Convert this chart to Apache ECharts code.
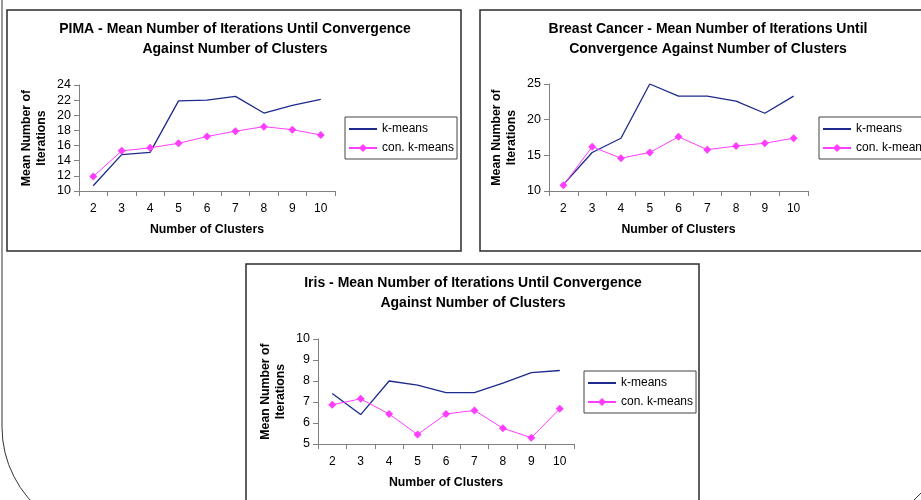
<!DOCTYPE html>
<html>
<head>
<meta charset="utf-8">
<title>Mean Number of Iterations Until Convergence</title>
<script src="https://cdn.jsdelivr.net/npm/echarts@6/dist/echarts.min.js"></script>
<style>
  html, body { margin: 0; padding: 0; background: #ffffff; }
  #chart { width: 921px; height: 500px; }
</style>
</head>
<body>
<div id="chart"></div>
<script>
// Number of clusters on every x axis
const clusters = ['2', '3', '4', '5', '6', '7', '8', '9', '10'];

// PIMA
const pimaKMeans    = [10.7, 14.8, 15.1, 21.9, 22.0, 22.5, 20.3, 21.3, 22.1];
const pimaConKMeans = [11.9, 15.3, 15.7, 16.3, 17.2, 17.9, 18.5, 18.1, 17.4];

// Breast Cancer
const breastKMeans    = [10.9, 15.4, 17.4, 25.0, 23.3, 23.3, 22.6, 20.9, 23.3];
const breastConKMeans = [10.8, 16.2, 14.6, 15.4, 17.6, 15.8, 16.3, 16.7, 17.4];

// Iris
const irisKMeans    = [7.4, 6.4, 8.0, 7.8, 7.45, 7.45, 7.9, 8.4, 8.5];
const irisConKMeans = [6.87, 7.15, 6.43, 5.45, 6.43, 6.6, 5.75, 5.3, 6.68];

// y-axis ranges: [min, max, interval]
const pimaRange   = [10, 24, 2];
const breastRange = [10, 25, 5];
const irisRange   = [5, 10, 1];

const titles = [
  'PIMA - Mean Number of Iterations Until Convergence\nAgainst Number of Clusters',
  'Breast Cancer - Mean Number of Iterations Until\nConvergence Against Number of Clusters',
  'Iris - Mean Number of Iterations Until Convergence\nAgainst Number of Clusters'
];
const seriesNames = ['k-means', 'con. k-means'];
const yName = 'Mean Number of\nIterations';
const xName = 'Number of Clusters';

const FONT = 'Liberation Sans, Arial, sans-serif';
const NAVY = '#1c2a8c';
const MAGENTA = '#ff3dff';
const AXIS_GRAY = '#808080';
const CLEAR = 'rgba(0,0,0,0)';

const panels = [
  { title: titles[0], tx: 235, ty: 19, grid: { left: 79, top: 85, width: 256, height: 106 },
    legend: { left: 345, top: 117 }, range: pimaRange, k: pimaKMeans, c: pimaConKMeans },
  { title: titles[1], tx: 708, ty: 19, grid: { left: 549, top: 84, width: 259, height: 107 },
    legend: { left: 819, top: 117 }, range: breastRange, k: breastKMeans, c: breastConKMeans },
  { title: titles[2], tx: 473, ty: 273, grid: { left: 318, top: 339, width: 256, height: 105 },
    legend: { left: 584, top: 371 }, range: irisRange, k: irisKMeans, c: irisConKMeans }
];

const option = {
  backgroundColor: '#ffffff',
  animation: false,
  title: panels.map(p => ({
    text: p.title,
    left: p.tx,
    top: p.ty,
    padding: 0,
    textAlign: 'center',
    textStyle: { fontFamily: FONT, fontSize: 14, fontWeight: 'bold', color: '#000', lineHeight: 20 }
  })),
  legend: panels.map(p => ({
    orient: 'vertical',
    left: p.legend.left,
    top: p.legend.top,
    padding: [5, 3, 4, 3],
    itemGap: 5,
    itemWidth: 28,
    itemHeight: 10,
    borderColor: '#444',
    borderWidth: 1,
    selectedMode: false,
    data: [
      // plain line sample, no marker
      { name: seriesNames[0], itemStyle: { color: CLEAR, borderColor: CLEAR, borderWidth: 0 } },
      { name: seriesNames[1] }
    ],
    textStyle: { fontFamily: FONT, fontSize: 12, color: '#000', lineHeight: 14 }
  })),
  grid: panels.map(p => Object.assign({ containLabel: false }, p.grid)),
  xAxis: panels.map((p, i) => ({
    type: 'category',
    gridIndex: i,
    data: clusters,
    boundaryGap: true,
    name: xName,
    nameLocation: 'middle',
    nameGap: 33,
    nameTextStyle: { fontFamily: FONT, fontSize: 12.3, fontWeight: 'bold', color: '#000' },
    axisLine: { lineStyle: { color: AXIS_GRAY, width: 1 } },
    axisTick: { show: true, length: 5, alignWithLabel: false, lineStyle: { color: AXIS_GRAY } },
    axisLabel: { fontFamily: FONT, fontSize: 12, color: '#000', margin: 12 },
    splitLine: { show: false }
  })),
  yAxis: panels.map((p, i) => ({
    type: 'value',
    gridIndex: i,
    min: p.range[0],
    max: p.range[1],
    interval: p.range[2],
    name: yName,
    nameLocation: 'middle',
    nameGap: 30,
    nameTextStyle: { fontFamily: FONT, fontSize: 12.3, fontWeight: 'bold', color: '#000', lineHeight: 15 },
    axisLine: { show: true, lineStyle: { color: AXIS_GRAY, width: 1 } },
    axisTick: { show: true, length: 5, lineStyle: { color: AXIS_GRAY } },
    axisLabel: { fontFamily: FONT, fontSize: 12.5, color: '#000', margin: 8 },
    splitLine: { show: false }
  })),
  series: panels.flatMap((p, i) => [
    {
      name: seriesNames[0],
      type: 'line',
      xAxisIndex: i,
      yAxisIndex: i,
      data: p.k,
      symbol: 'none',
      lineStyle: { color: NAVY, width: 1.3 },
      itemStyle: { color: NAVY }
    },
    {
      name: seriesNames[1],
      type: 'line',
      xAxisIndex: i,
      yAxisIndex: i,
      data: p.c,
      symbol: 'diamond',
      symbolSize: 8,
      lineStyle: { color: MAGENTA, width: 1 },
      itemStyle: { color: MAGENTA }
    }
  ]),
  graphic: [
    // chart frames
    { type: 'rect', shape: { x: 7, y: 10, width: 454, height: 241 },
      style: { fill: 'none', stroke: '#2b2b2b', lineWidth: 1.5 } },
    { type: 'rect', shape: { x: 480, y: 10, width: 460, height: 241 },
      style: { fill: 'none', stroke: '#2b2b2b', lineWidth: 1.5 } },
    { type: 'rect', shape: { x: 246, y: 264, width: 453, height: 260 },
      style: { fill: 'none', stroke: '#2b2b2b', lineWidth: 1.5 } },
    // page outline
    { type: 'line', shape: { x1: 2, y1: 0, x2: 2, y2: 427 },
      style: { stroke: '#333', lineWidth: 1 } },
    { type: 'arc', shape: { cx: 111, cy: 427, r: 109, startAngle: 2.2, endAngle: Math.PI, clockwise: true },
      style: { fill: 'none', stroke: '#333', lineWidth: 1 } },
    { type: 'line', shape: { x1: 914, y1: 500, x2: 921, y2: 493 },
      style: { stroke: '#333', lineWidth: 1 } }
  ]
};

const chart = echarts.init(document.getElementById('chart'), null, { renderer: 'canvas' });
chart.setOption(option);
</script>
</body>
</html>
